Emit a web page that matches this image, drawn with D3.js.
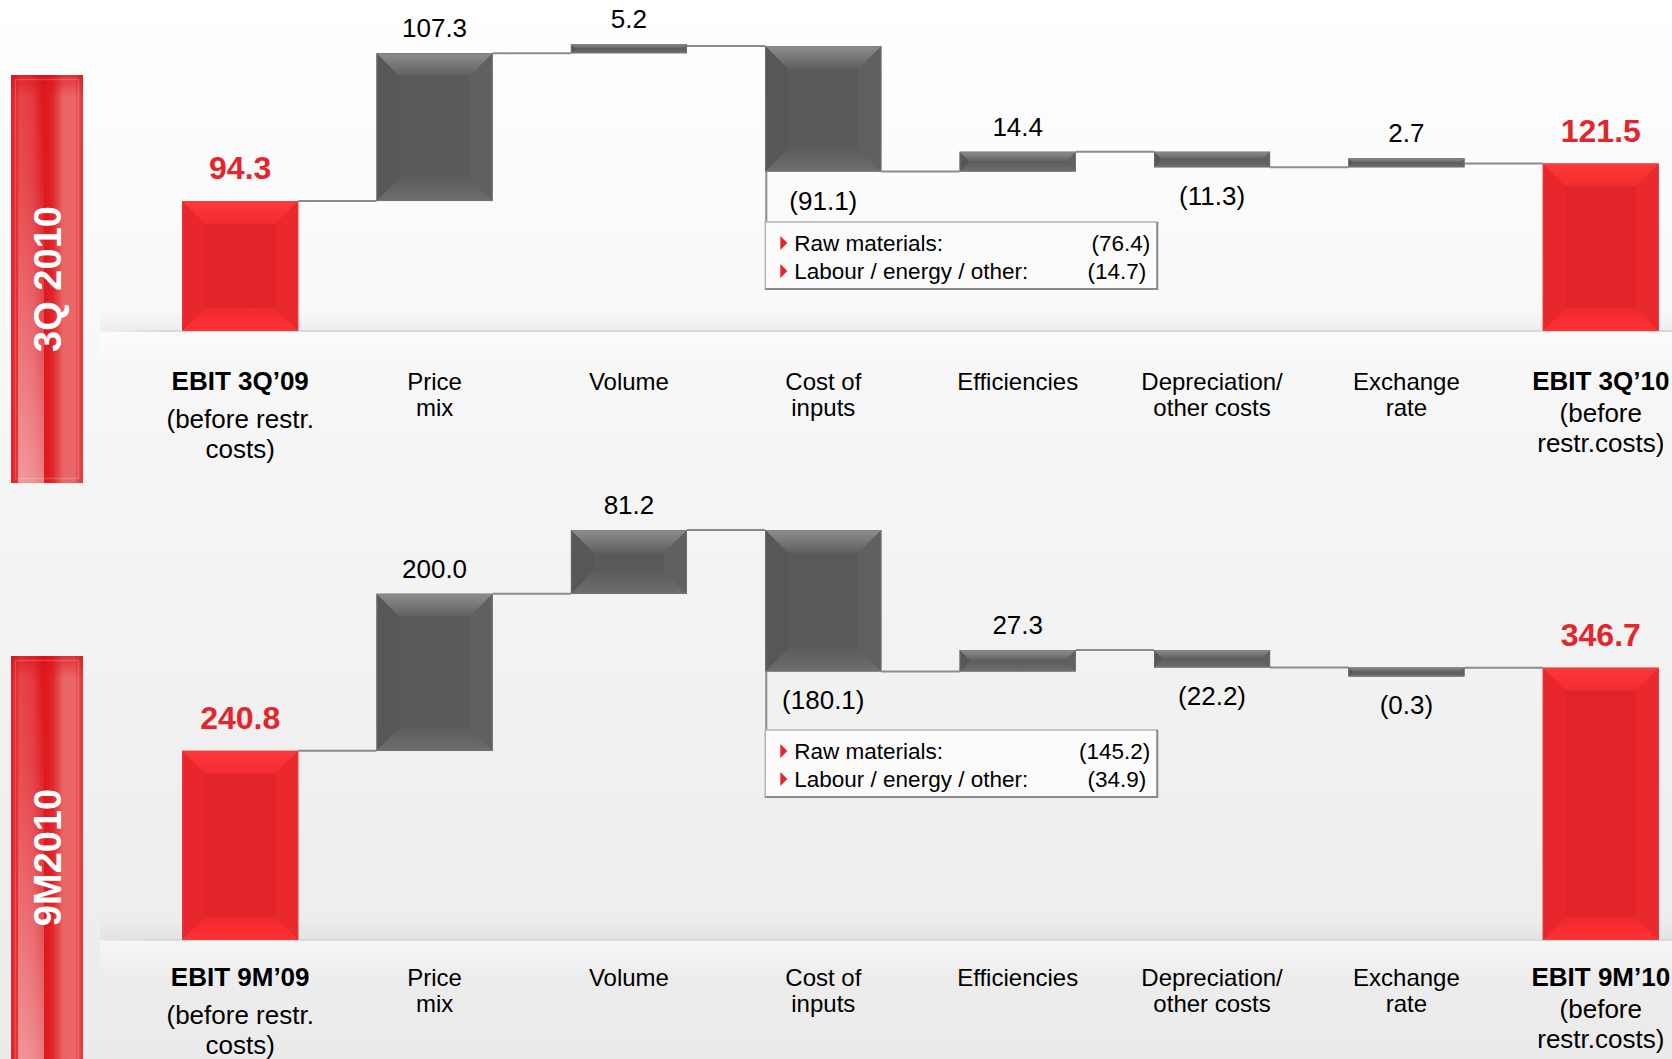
<!DOCTYPE html>
<html><head><meta charset="utf-8">
<script src="https://cdn.jsdelivr.net/npm/d3@7"></script>
<style>html,body{margin:0;padding:0;background:#fff;} svg{display:block;}</style>
</head><body>
<svg id="chart" width="1672" height="1059"></svg>
<script>
// ---------------- DATA ----------------
const panelTitles = ["3Q 2010", "9M2010"];
const barKinds = ["total", "delta", "delta", "delta", "delta", "delta", "delta", "total"];
const categories3Q = [
  ["EBIT 3Q’09", "(before restr.", "costs)"],
  ["Price", "mix"], ["Volume"], ["Cost of", "inputs"], ["Efficiencies"],
  ["Depreciation/", "other costs"], ["Exchange", "rate"],
  ["EBIT 3Q’10", "(before", "restr.costs)"]
];
const categories9M = [
  ["EBIT 9M’09", "(before restr.", "costs)"],
  ["Price", "mix"], ["Volume"], ["Cost of", "inputs"], ["Efficiencies"],
  ["Depreciation/", "other costs"], ["Exchange", "rate"],
  ["EBIT 9M’10", "(before", "restr.costs)"]
];
const values3Q = [94.3, 107.3, 5.2, -91.1, 14.4, -11.3, 2.7, 121.5];
const values9M = [240.8, 200.0, 81.2, -180.1, 27.3, -22.2, -0.3, 346.7];
const breakdownLabels = ["Raw materials:", "Labour / energy / other:"];
const breakdown3Q = [-76.4, -14.7];
const breakdown9M = [-145.2, -34.9];
const breakdownIndex = 3; // "Cost of inputs"

// ---------------- LAYOUT ----------------
const W = 1672, H = 1059;
const FONT = "'Liberation Sans', Arial, Helvetica, sans-serif";
const panels = [
  { title: panelTitles[0], cats: categories3Q, vals: values3Q, breakdown: breakdown3Q,
    base: 331, top: 46, sideY0: 75, sideY1: 483, boxTop: 222, labelY: 381 },
  { title: panelTitles[1], cats: categories9M, vals: values9M, breakdown: breakdown9M,
    base: 940, top: 530, sideY0: 656, sideY1: 1075, boxTop: 730, labelY: 977 }
];

const svg = d3.select("#chart");
const defs = svg.append("defs");

const bg = defs.append("linearGradient").attr("id", "bg").attr("x1", 0).attr("y1", 0).attr("x2", 0).attr("y2", 1);
bg.append("stop").attr("offset", "0%").attr("stop-color", "#ffffff");
bg.append("stop").attr("offset", "45%").attr("stop-color", "#f5f5f5");
bg.append("stop").attr("offset", "100%").attr("stop-color", "#ebebeb");
svg.append("rect").attr("width", W).attr("height", H).attr("fill", "url(#bg)");

function lin(id, dir, stops) {
  const g = defs.append("linearGradient").attr("id", id);
  if (dir === "v") g.attr("x1", 0).attr("y1", 0).attr("x2", 0).attr("y2", 1);
  else g.attr("x1", 0).attr("y1", 0).attr("x2", 1).attr("y2", 0);
  stops.forEach(s => g.append("stop").attr("offset", s[0]).attr("stop-color", s[1]).attr("stop-opacity", s[2] == null ? 1 : s[2]));
}
lin("gTop", "v", [["0%", "#8e8e8e"], ["100%", "#5f5f5f"]]);
lin("gBot", "v", [["0%", "#5c5c5c"], ["100%", "#6e6e6e"]]);
lin("rTop", "v", [["0%", "#ff3a3a"], ["100%", "#f12b2f"]]);
lin("rBot", "v", [["0%", "#ef292d"], ["100%", "#ff3234"]]);
lin("floorUp", "v", [["0%", "#000", 0], ["100%", "#000", 0.045]]);
lin("floorDown", "v", [["0%", "#fff", 0.5], ["100%", "#fff", 0]]);
lin("floorLine", "h", [["0%", "#dadada", 0], ["4%", "#d9d9d9", 1], ["100%", "#d9d9d9", 1]]);
lin("side", "h", [["0%", "#e3252b"], ["8%", "#e4292f"], ["12%", "#e6454a"], ["30%", "#e3393e"],
  ["45%", "#de161c"], ["58%", "#e0262b"], ["72%", "#e96467"], ["88%", "#e9696b"], ["94%", "#e4474b"], ["100%", "#e2383c"]]);
lin("sideHi", "v", [["0%", "#fff", 0], ["25%", "#fff", 0.05], ["100%", "#fff", 0.45]]);
lin("sideTop", "v", [["0%", "#d80f15", 0.6], ["100%", "#d80f15", 0]]);

const x = d3.scaleBand().domain(d3.range(8)).range([143, 1698]).paddingInner(0.403).paddingOuter(0.2015);
const bw = x.bandwidth();
const fmt = d3.format(".1f");
const label = v => v < 0 ? "(" + fmt(-v) + ")" : fmt(v);

function bevelBar(g, x0, y0, y1, w, red) {
  const h = y1 - y0;
  const b = Math.max(0, Math.min(23, h / 2, w / 2));
  const x1 = x0 + w;
  const pts = a => a.map(p => p.join(",")).join(" ");
  g.append("rect").attr("x", x0).attr("y", y0).attr("width", w).attr("height", h)
    .attr("fill", red ? "#e0242a" : "#5a5a5a");
  g.append("polygon").attr("points", pts([[x0, y0], [x0 + b, y0 + b], [x0 + b, y1 - b], [x0, y1]]))
    .attr("fill", red ? "#e7272c" : "#575757");
  g.append("polygon").attr("points", pts([[x1, y0], [x1 - b, y0 + b], [x1 - b, y1 - b], [x1, y1]]))
    .attr("fill", red ? "#ea292d" : "#606060");
  g.append("polygon").attr("points", pts([[x0, y0], [x1, y0], [x1 - b, y0 + b], [x0 + b, y0 + b]]))
    .attr("fill", red ? "url(#rTop)" : "url(#gTop)");
  g.append("polygon").attr("points", pts([[x0, y1], [x1, y1], [x1 - b, y1 - b], [x0 + b, y1 - b]]))
    .attr("fill", red ? "url(#rBot)" : "url(#gBot)");
  g.append("rect").attr("x", x0 + 0.5).attr("y", y0 + 0.5).attr("width", w - 1).attr("height", Math.max(0, h - 1))
    .attr("fill", "none").attr("stroke", red ? "#f04448" : "#7a7a7a").attr("stroke-width", 1).attr("stroke-opacity", 0.5);
}

panels.forEach((p, pi) => {
  const g = svg.append("g");
  let run = 0;
  const bars = p.vals.map((v, i) => {
    let s, e;
    if (barKinds[i] === "total") { s = 0; e = v; run = v; }
    else { s = run; e = run + v; run = e; }
    return { i, v, s, e, kind: barKinds[i] };
  });
  const maxLevel = d3.max(bars, d => Math.max(d.s, d.e));
  const y = d3.scaleLinear().domain([0, maxLevel]).range([p.base, p.top]);

  // floor
  g.append("rect").attr("x", 100).attr("y", p.base - 22).attr("width", W - 100).attr("height", 22).attr("fill", "url(#floorUp)");
  g.append("rect").attr("x", 100).attr("y", p.base + 1).attr("width", W - 100).attr("height", 36).attr("fill", "url(#floorDown)");
  g.append("rect").attr("x", 100).attr("y", p.base - 1).attr("width", W - 100).attr("height", 2).attr("fill", "url(#floorLine)");

  // side title bar
  const sx = 11, sw = 72;
  g.append("rect").attr("x", sx).attr("y", p.sideY0).attr("width", sw).attr("height", p.sideY1 - p.sideY0).attr("fill", "url(#side)");
  g.append("rect").attr("x", sx + 7).attr("y", p.sideY0 + 10).attr("width", 26).attr("height", p.sideY1 - p.sideY0 - 10).attr("fill", "url(#sideHi)");
  g.append("rect").attr("x", sx).attr("y", p.sideY0).attr("width", sw).attr("height", 22).attr("fill", "url(#sideTop)");
  g.append("rect").attr("x", sx + 4.5).attr("y", p.sideY0 + 4.5).attr("width", sw - 9).attr("height", p.sideY1 - p.sideY0 - 9)
    .attr("fill", "none").attr("stroke", "#fff").attr("stroke-opacity", 0.18).attr("stroke-width", 1.5);
  g.append("text").attr("transform", `translate(${sx + sw / 2 + 13.5},${(p.sideY0 + Math.min(p.sideY1, H)) / 2}) rotate(-90)`)
    .attr("text-anchor", "middle").attr("font-family", FONT).attr("font-weight", "bold").attr("font-size", 38)
    .attr("fill", "#fff").text(p.title);

  // connectors
  bars.forEach((d, i) => {
    if (i === bars.length - 1) return;
    g.append("line").attr("x1", x(i) + bw).attr("x2", x(i + 1)).attr("y1", y(d.e)).attr("y2", y(d.e))
      .attr("stroke", "#8c8c8c").attr("stroke-width", 2);
  });

  // breakdown annotation for cost of inputs
  const cb = bars[breakdownIndex];
  const bx = x(breakdownIndex);
  const bTop = y(Math.min(cb.s, cb.e));
  const boxW = 392, boxH = 67;
  g.append("line").attr("x1", bx + 1).attr("x2", bx + 1).attr("y1", bTop).attr("y2", p.boxTop)
    .attr("stroke", "#8c8c8c").attr("stroke-width", 2);
  g.append("rect").attr("x", bx).attr("y", p.boxTop).attr("width", boxW).attr("height", boxH)
    .attr("fill", "#fbfbfb").attr("stroke", "#b4b4b4").attr("stroke-width", 1.5);
  g.append("path").attr("d", `M${bx},${p.boxTop + boxH}H${bx + boxW}V${p.boxTop}`)
    .attr("fill", "none").attr("stroke", "#8a8a8a").attr("stroke-width", 2);
  breakdownLabels.forEach((t, k) => {
    const cy = p.boxTop + 21 + k * 28;
    g.append("path").attr("d", `M${bx + 15},${cy - 7}L${bx + 22},${cy}L${bx + 15},${cy + 7}Z`).attr("fill", "#e3262b");
    g.append("text").attr("x", bx + 29).attr("y", cy + 8).attr("font-family", FONT).attr("font-size", 22.5)
      .attr("fill", "#000").text(t);
    g.append("text").attr("x", bx + boxW - 7 + (k === 1 ? -4 : 0)).attr("y", cy + 8).attr("text-anchor", "end")
      .attr("font-family", FONT).attr("font-size", 22.5).attr("fill", "#000").text(label(p.breakdown[k]));
  });

  // bars
  const MIN_H = 9;
  bars.forEach(d => {
    let yTop = y(Math.max(d.s, d.e)), yBot = y(Math.min(d.s, d.e));
    if (yBot - yTop < MIN_H) {
      if (d.e >= d.s) { yBot = y(d.s); yTop = yBot - MIN_H; }
      else { yTop = y(d.s); yBot = yTop + MIN_H; }
    }
    d.yTop = yTop; d.yBot = yBot;
    bevelBar(g, x(d.i), yTop, yBot, bw, d.kind === "total");
  });

  // value labels
  bars.forEach(d => {
    const cx = x(d.i) + bw / 2;
    if (d.kind === "total") {
      g.append("text").attr("x", cx).attr("y", d.yTop - 22).attr("text-anchor", "middle")
        .attr("font-family", FONT).attr("font-weight", "bold").attr("font-size", 32).attr("fill", "#e3262b")
        .text(label(d.v));
    } else if (d.v >= 0) {
      g.append("text").attr("x", cx).attr("y", d.yTop - 16).attr("text-anchor", "middle")
        .attr("font-family", FONT).attr("font-size", 26).attr("fill", "#000").text(label(d.v));
    } else {
      g.append("text").attr("x", cx).attr("y", d.yBot + 38).attr("text-anchor", "middle")
        .attr("font-family", FONT).attr("font-size", 26).attr("fill", "#000").text(label(d.v));
    }
  });

  // category labels
  p.cats.forEach((lines, i) => {
    const cx = x(i) + bw / 2;
    const isTotal = barKinds[i] === "total";
    const offs = !isTotal ? [0, 26] : (i === 0 ? [0, 38, 68] : [0, 32, 62]);
    lines.forEach((t, k) => {
      g.append("text").attr("x", cx).attr("y", p.labelY + offs[k] + 9).attr("text-anchor", "middle")
        .attr("font-family", FONT).attr("font-size", isTotal ? 26 : 24)
        .attr("font-weight", isTotal && k === 0 ? "bold" : "normal").attr("fill", "#000").text(t);
    });
  });
});
</script>
</body></html>
